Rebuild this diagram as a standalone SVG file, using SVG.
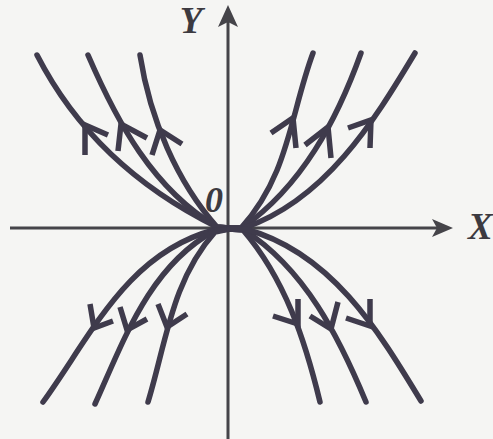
<svg xmlns="http://www.w3.org/2000/svg" width="493" height="439" viewBox="0 0 493 439">
<style>
.axis{stroke:#454449;stroke-width:3;fill:none}
.head{fill:#454449;stroke:none}
.curve{stroke:#3f3b4c;stroke-width:5.5;fill:none;stroke-linecap:round;stroke-linejoin:round}
.arr{stroke:#3f3b4c;stroke-width:5.5;fill:none;stroke-linecap:butt;stroke-linejoin:miter}
.lbl{font-family:"Liberation Serif","DejaVu Serif",serif;font-style:italic;font-weight:bold;fill:#3c3a40}
</style>
<rect x="0" y="0" width="493" height="439" fill="#f5f5f3"/>
<g id="axes">
  <g id="x-axis">
    <line class="axis" x1="10" y1="228" x2="438" y2="228"/>
    <polygon class="head" points="453,228 432,219 437,228 432,237"/>
    <text class="lbl" x="468" y="239" font-size="37">X</text>
  </g>
  <g id="y-axis">
    <line class="axis" x1="228" y1="439" x2="228" y2="20"/>
    <polygon class="head" points="228,5 218,27 228,22 238,27"/>
    <text class="lbl" x="191" y="33" font-size="37" text-anchor="middle">Y</text>
  </g>
  <g id="origin">
    <text class="lbl" x="214" y="212" font-size="36" font-weight="normal" text-anchor="middle">0</text>
  </g>
</g>
<g id="connectors">
  <path class="curve" d="M37,55 C78,135 140,189 217,227 L229,228"/>
  <path class="curve" d="M88,55 C117,122 153,189 217,227 L229,228"/>
  <path class="curve" d="M140,55 C150,119 177,182 217,227 L229,228"/>
  <path class="curve" d="M313,53 C290,115 289,175 241,228 L229,228"/>
  <path class="curve" d="M361,53 C337,120 302,186 242,228 L229,228"/>
  <path class="curve" d="M415,53 C373,123 325,200 244,228 L229,228"/>
  <path class="curve" d="M43,402 C91,336 127,253 214,230 L229,229"/>
  <path class="curve" d="M95,404 C124,340 149,267 214,231 L229,229"/>
  <path class="curve" d="M148,402 C166,343 172,280 215,232 L229,229"/>
  <path class="curve" d="M320,402 C305,340 285,279 243,230 L229,229"/>
  <path class="curve" d="M366,402 C339,337 305,269 244,230 L229,229"/>
  <path class="curve" d="M421,401 C378,330 331,252 245,229 L229,229"/>
  <path class="arr" d="M85,155 L85,125 L108,135"/>
  <path class="arr" d="M118,151 L121,124 L147,138"/>
  <path class="arr" d="M152,155 L160,130 L182,144"/>
  <path class="arr" d="M271,133 L293,118 L296,148"/>
  <path class="arr" d="M305,145 L328,127 L331,158"/>
  <path class="arr" d="M348,128 L371,120 L370,148"/>
  <path class="arr" d="M90,304 L94,328 L113,321"/>
  <path class="arr" d="M120,307 L127,330 L147,319"/>
  <path class="arr" d="M158,304 L167,327 L187,314"/>
  <path class="arr" d="M273,316 L298,324 L298,299"/>
  <path class="arr" d="M310,316 L331,329 L338,302"/>
  <path class="arr" d="M346,318 L370,326 L370,299"/>
</g>
</svg>
